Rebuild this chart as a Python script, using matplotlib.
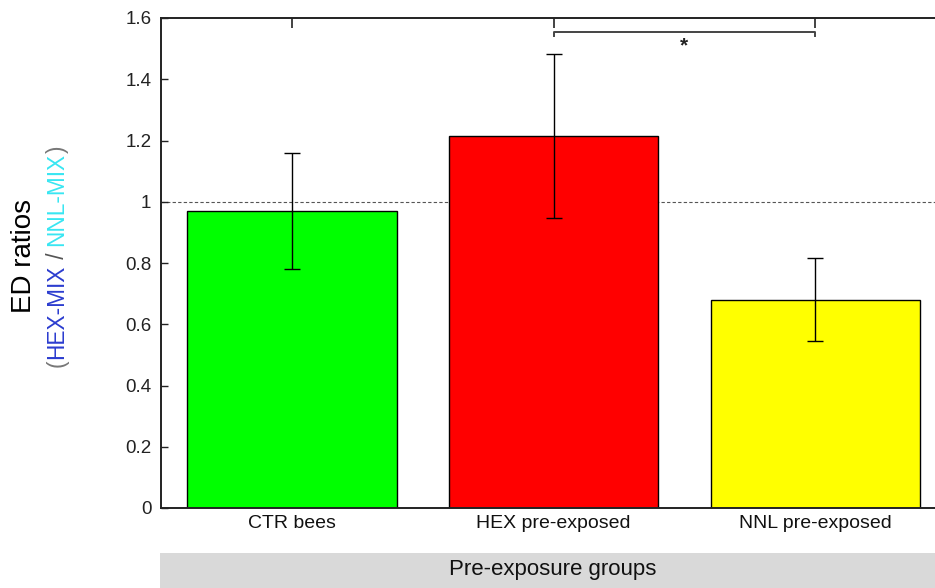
import matplotlib
matplotlib.use("Agg")
import matplotlib.pyplot as plt
from matplotlib.patches import Rectangle

plt.rcParams["font.family"] = ["Liberation Sans", "DejaVu Sans"]

groups = ["CTR bees", "HEX pre-exposed", "NNL pre-exposed"]
ratios = [0.97, 1.215, 0.68]
errors = [0.19, 0.268, 0.135]
colors = ["#00ff00", "#ff0000", "#ffff00"]
yticks = [0, 0.2, 0.4, 0.6, 0.8, 1, 1.2, 1.4, 1.6]
ytick_labels = ["0", "0.2", "0.4", "0.6", "0.8", "1", "1.2", "1.4", "1.6"]

W, H = 935, 588
fig = plt.figure(figsize=(W / 100, H / 100), dpi=100)
# axes runs past the right edge of the figure on purpose
ax = fig.add_axes([161 / W, 1 - 508 / H, (946 - 161) / W, 490 / H])

x = list(range(len(groups)))
ax.bar(x, ratios, width=0.8, color=colors, edgecolor="black", lw=1, zorder=2)
ax.errorbar(x, ratios, yerr=errors, fmt="none", ecolor="black", elinewidth=1,
            capsize=5.5, capthick=1, zorder=3)
ax.axhline(1, color="#555555", lw=0.8, ls=(0, (3, 2)), zorder=1)

ax.set_xlim(-0.5, 2.5)
ax.set_ylim(0, 1.6)
ax.set_yticks(yticks)
ax.set_yticklabels(ytick_labels, fontsize=13.5)
ax.set_xticks(x)
ax.set_xticklabels(groups, fontsize=14)
ax.tick_params(axis="y", direction="in", length=5, width=1, pad=7, colors="#222222")
ax.tick_params(axis="x", bottom=False, top=True, direction="in", length=7, width=1.2,
               pad=5, colors="#222222", labelbottom=True)
ax.tick_params(axis="x", labelcolor="#111111")
for s in ["left", "top", "bottom"]:
    ax.spines[s].set_linewidth(1.4)
    ax.spines[s].set_color("#222222")
ax.spines["right"].set_visible(False)

# significance bracket HEX vs NNL
yb, yt = 1.541, 1.554
ax.plot([1, 1, 2, 2], [yb, yt, yt, yb], color="#444444", lw=1.4, clip_on=False)
ax.text(1.5, 1.51, "*", ha="center", va="center", fontsize=15, fontweight="bold",
        color="#222222")

# x label in grey band
fig.patches.append(Rectangle((160 / W, 0), 1, (588 - 553) / H, transform=fig.transFigure,
                             facecolor="#d9d9d9", edgecolor="none"))
fig.text(553 / W, 1 - 570 / H, "Pre-exposure groups", ha="center", va="center",
         fontsize=16, color="#111111")

# y label, two lines; second line coloured piece by piece
fig.text(24 / W, 1 - 256 / H, "ED ratios", rotation=90, ha="center", va="center",
         fontsize=20, color="black")
pieces = [("(", "#777777"), ("HEX-MIX", "#2b3ccf"), (" / ", "#555555"),
          ("NNL-MIX", "#38e6f2"), (")", "#777777")]
fig.canvas.draw()
renderer = fig.canvas.get_renderer()
fs = 16.3
arts = []
for txt, col in pieces:
    arts.append(fig.text(0, 0, txt, rotation=90, fontsize=fs, color=col,
                         ha="center", va="bottom"))
heights = [a.get_window_extent(renderer).height for a in arts]
total = sum(heights)
y0 = (H - 256) - total / 2
for a, h in zip(arts, heights):
    a.set_position((57 / W, y0 / H))
    y0 += h

fig.savefig("out.png", dpi=100)
